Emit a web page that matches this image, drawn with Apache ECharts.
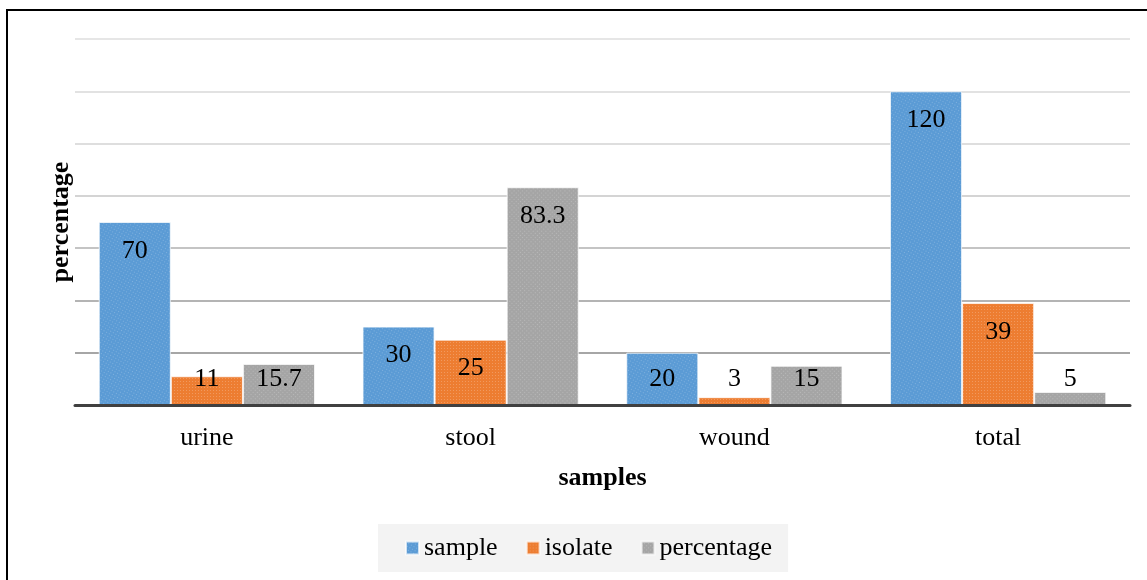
<!DOCTYPE html>
<html>
<head>
<meta charset="utf-8">
<script src="https://cdn.jsdelivr.net/npm/echarts@6/dist/echarts.min.js"></script>
<style>
html,body{margin:0;padding:0;background:#fff;}
#chart{width:1147px;height:580px;}
</style>
</head>
<body>
<div id="chart"></div>
<script>
var categories = ['urine', 'stool', 'wound', 'total'];
var sampleValues = [70, 30, 20, 120];
var isolateValues = [11, 25, 3, 39];
var percentageValues = [15.7, 83.3, 15, 5];
var seriesNames = ['sample', 'isolate', 'percentage'];
var seriesColors = ['#5b9bd5', '#ed7d31', '#a5a5a5'];

var FONT = '"Liberation Serif", "Times New Roman", serif';
var FS = 26;

function items(vals) {
  return vals.map(function (v) {
    var small = v < 23;
    return {
      value: v,
      label: small ? { position: 'insideBottom', distance: 13 } : { position: 'insideTop', distance: 16 }
    };
  });
}

function mkSeries(name, vals, color) {
  return {
    name: name,
    type: 'bar',
    data: items(vals),
    barGap: '0%',
    barCategoryGap: '18%',
    itemStyle: {
      color: color,
      borderColor: 'rgba(255,255,255,0.45)',
      borderWidth: 1,
      decal: {
        symbol: 'rect',
        symbolSize: 1,
        dashArrayX: [[1, 2]],
        dashArrayY: [1, 2],
        color: 'rgba(255,255,255,0.22)'
      }
    },
    label: {
      show: true,
      color: '#000',
      fontSize: FS,
      fontFamily: FONT
    },
    z: 3
  };
}

var chart = echarts.init(document.getElementById('chart'), null, { renderer: 'canvas' });
chart.setOption({
  animation: false,
  backgroundColor: '#fff',
  aria: { enabled: true, decal: { show: true } },
  textStyle: { fontFamily: FONT },
  grid: { left: 75, right: 17, top: 39, bottom: 175, containLabel: false },
  legend: {
    data: seriesNames,
    left: 378,
    top: 524,
    itemWidth: 13,
    itemHeight: 13,
    itemGap: 28,
    padding: [11, 16, 11, 27],
    backgroundColor: '#f3f3f3',
    icon: 'rect',
    textStyle: { fontSize: FS, color: '#000', fontFamily: FONT }
  },
  xAxis: {
    type: 'category',
    data: categories,
    name: 'samples',
    nameLocation: 'middle',
    nameGap: 60,
    nameTextStyle: { fontSize: FS, fontWeight: 'bold', color: '#000', fontFamily: FONT },
    axisLine: { show: true, lineStyle: { color: '#404040', width: 3 } },
    axisTick: { show: false },
    axisLabel: { fontSize: FS, color: '#000', margin: 20, fontFamily: FONT },
    z: 5
  },
  yAxis: {
    type: 'value',
    min: 0,
    max: 140,
    interval: 20,
    name: 'percentage',
    nameLocation: 'middle',
    nameGap: 1,
    nameTextStyle: { fontSize: FS, fontWeight: 'bold', color: '#000', fontFamily: FONT },
    axisLine: { show: false },
    axisTick: { show: false },
    axisLabel: { show: false },
    splitLine: {
      show: true,
      lineStyle: {
        width: 2,
        color: ['#404040', '#a6a6a6', '#b4b4b4', '#c4c4c4', '#d4d4d4', '#dedede', '#e2e2e2', '#e6e6e6']
      }
    }
  },
  graphic: [{
    type: 'rect',
    shape: { x: 7, y: 10, width: 1200, height: 700 },
    style: { fill: 'none', stroke: '#000', lineWidth: 2 },
    silent: true
  }],
  series: [
    mkSeries(seriesNames[0], sampleValues, seriesColors[0]),
    mkSeries(seriesNames[1], isolateValues, seriesColors[1]),
    mkSeries(seriesNames[2], percentageValues, seriesColors[2])
  ]
});
</script>
</body>
</html>
